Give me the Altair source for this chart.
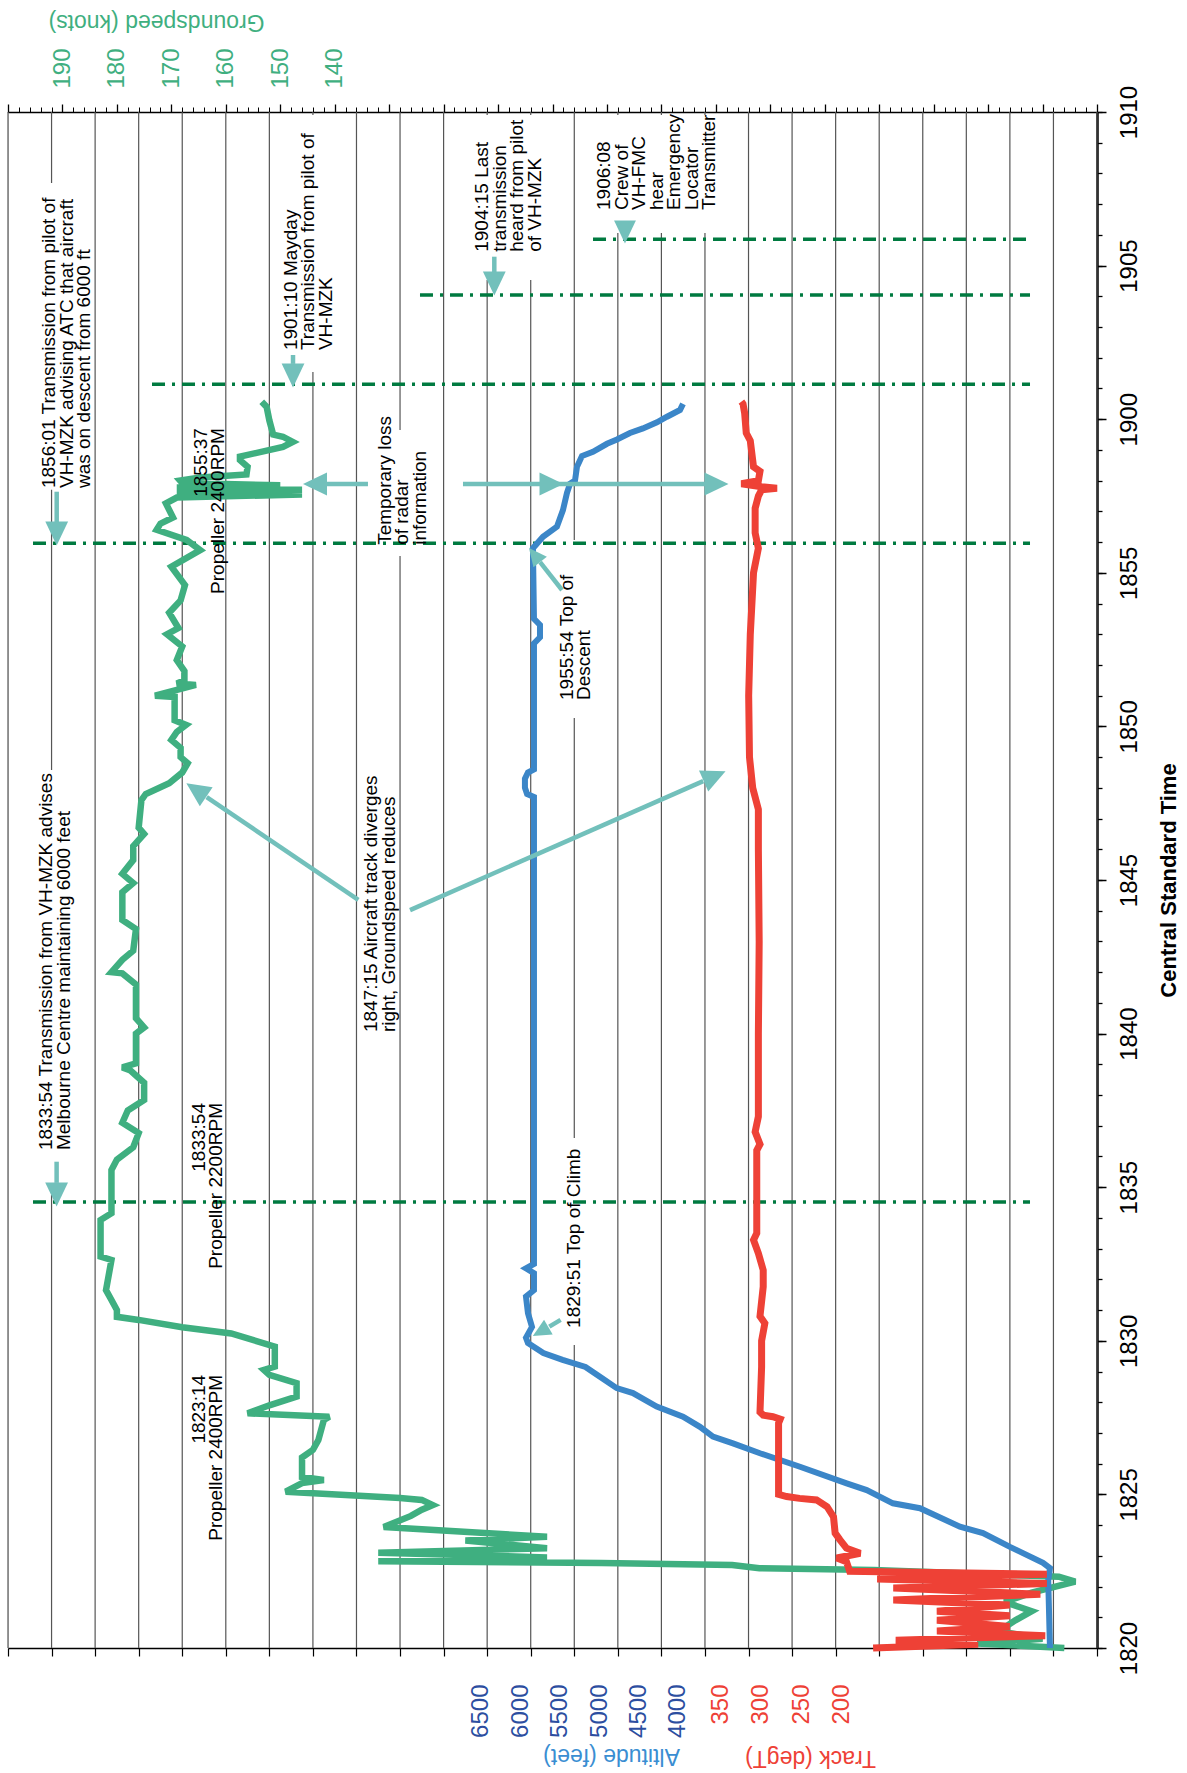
import altair as alt
import pandas as pd

# ---------------- data (time = minutes after 18:00 CST) ----------------
gs_time = [20.00, 20.15, 20.30, 20.55, 20.90, 21.20, 21.50, 21.80, 22.16, 22.32, 22.48, 22.54, 22.60, 22.70,
           22.74, 22.77, 22.82, 22.95, 23.10, 23.25, 23.50, 23.62, 23.94, 24.30, 24.50, 24.65, 24.82, 24.88,
           24.98, 25.09, 25.37, 25.47, 25.57, 26.20, 26.45, 26.77, 27.42, 27.53, 27.64, 27.90, 28.18, 28.62,
           28.89, 29.05, 29.16, 29.81, 30.24, 30.44, 30.68, 30.78, 31.00, 31.33, 31.65, 32.63, 32.74, 33.93,
           34.15, 35.56, 35.90, 36.30, 36.76, 37.10, 37.50, 37.84, 38.40, 38.80, 38.90, 39.03, 40.00, 40.20,
           40.50, 41.60, 41.96, 42.00, 42.40, 42.70, 43.40, 43.70, 44.60, 44.90, 45.20, 45.65, 46.10, 46.50,
           46.70, 47.60, 47.80, 48.15, 48.50, 48.80, 49.00, 49.30, 49.56, 49.82, 50.05, 50.20, 50.96, 51.00,
           51.35, 51.40, 51.50, 51.80, 52.16, 52.60, 53.00, 53.20, 53.70, 54.10, 54.60, 55.20, 55.74, 56.07,
           56.40, 56.60, 56.80, 57.26, 57.45, 57.55, 57.62, 57.70, 57.78, 57.85, 57.92, 58.00, 58.10, 58.20,
           58.45, 58.67, 58.78, 59.10, 59.26, 59.43, 59.50, 59.96, 60.40, 60.57]
gs_knots = [6, 22, 10, 18, 15, 12, 17, 12, 4, 7, 32, 41, 62, 67,
            82, 91, 132, 101, 132, 101, 116, 101, 131, 126, 124, 122, 124, 128,
            138, 149, 146, 142, 146, 146, 144, 143, 142, 141, 156, 152, 147, 147,
            152, 153, 151, 151, 159, 168, 176, 180, 180, 181, 182, 181, 183, 183,
            181, 181, 180, 177, 176, 179, 178, 175, 175, 177.5, 179, 176.5, 176.5, 175,
            176.5, 176.5, 179, 181, 179, 177, 176.5, 179, 179, 177, 179, 177, 177, 175,
            176, 175.5, 174.7, 170.4, 168, 167, 168.3, 168.3, 170, 169, 167.3, 169.4, 169.4, 173,
            165.5, 169, 167.6, 167.6, 169, 168, 170.8, 168.7, 170.4, 168.3, 167.5, 170, 164.7, 167.2,
            172.7, 172, 169.7, 171, 169, 146, 169, 146, 169, 150, 168, 168.4, 164.7, 156.2,
            156, 157.4, 157.4, 149.5, 147.7, 149.5, 151.3, 152, 152.5, 153.4]

alt_time = [20.00, 22.20, 22.60, 22.77, 23.09, 23.29, 23.74, 23.95, 24.55, 24.71, 25.14, 25.36, 25.90, 26.34,
            26.66, 26.88, 27.20, 27.53, 27.86, 28.30, 28.46, 28.83, 29.15, 29.38, 29.60, 29.93, 30.10, 30.45,
            30.90, 31.44, 31.65, 32.20, 32.36, 32.50, 47.70, 47.80, 48.00, 48.30, 48.50, 48.60, 52.70, 52.90,
            53.30, 53.50, 55.80, 56.17, 56.50, 57.04, 57.60, 57.90, 58.00, 58.45, 58.80, 58.94, 59.20, 59.34,
            59.55, 59.70, 59.90, 60.08, 60.30, 60.50]
alt_feet = [0, 20, 0, 81, 314, 465, 779, 1047, 1512, 1826, 2131, 2364, 2907, 3372,
            3686, 3919, 4070, 4267, 4573, 4849, 5038, 5233, 5401, 5667, 5891, 6070, 6093, 6023,
            6070, 6093, 6000, 6000, 6093, 6000, 6000, 6080, 6105, 6105, 6070, 6000, 6000, 5930,
            5930, 6000, 6012, 5895, 5733, 5663, 5616, 5581, 5523, 5500, 5442, 5314, 5151, 5035,
            4884, 4733, 4570, 4453, 4302, 4267]

trk_time = [20.00, 20.12, 20.25, 20.40, 20.55, 20.70, 20.90, 21.05, 21.20, 21.40, 21.56, 21.75, 21.95, 22.10,
            22.25, 22.40, 22.50, 22.81, 22.93, 23.08, 23.25, 23.52, 23.74, 24.27, 24.60, 24.82, 24.87, 24.93,
            25.00, 27.32, 27.45, 27.53, 27.58, 27.68, 29.15, 30.00, 30.57, 30.80, 31.76, 32.30, 32.85, 33.28,
            33.50, 36.20, 36.40, 36.80, 37.30, 37.84, 40.00, 43.00, 46.00, 47.30, 48.00, 49.00, 51.00, 53.00,
            55.00, 55.80, 56.30, 57.10, 57.50, 57.70, 57.75, 57.80, 57.90, 58.00, 58.30, 58.45, 59.30, 59.55,
            60.20, 60.50, 60.57]
trk_deg = [161, 31, 133, -52, 82, -8, 82, -8, 82, -8, 136, -46, 136, -54,
           156, -54, 190, 194, 206, 177, 194, 202, 208, 210, 218, 231, 252, 268,
           278, 278, 276, 285, 297, 301, 299, 299, 295, 301, 297, 297, 303, 309,
           305, 305, 301, 307, 303, 303, 303, 302, 303, 303, 310, 314, 315, 313,
           309, 303, 307, 307, 303, 299, 280, 299, 324, 303, 301, 309, 313, 318,
           320, 322, 324]

gs_ticks = [140, 150, 160, 170, 180, 190]
alt_ticks = [4000, 4500, 5000, 5500, 6000, 6500]
trk_ticks = [200, 250, 300, 350]
time_ticks = list(range(20, 71, 5))

# ---------------- annotations (u = background grid index, t = minutes after 18:00) ----------------
texts_left = [
    (0.741, 57.76, ["1856:01 Transmission from pilot of", "VH-MZK advising ATC that aircraft", "was on descent from 6000 ft"]),
    (0.677, 36.21, ["1833:54 Transmission from VH-MZK advises", "Melbourne Centre maintaining 6000 feet"]),
    (6.279, 62.25, ["1901:10 Mayday", "Transmission from pilot of", "VH-MZK"]),
    (10.686, 65.45, ["1904:15 Last", "transmission", "heard from pilot", "of VH-MZK"]),
    (13.487, 66.81, ["1906:08", "Crew of", "VH-FMC", "hear", "Emergency", "Locator", "Transmitter"]),
    (8.437, 55.91, ["Temporary loss", "of radar", "information"]),
    (12.776, 30.42, ["1829:51 Top of Climb"]),
    (12.615, 50.86, ["1955:54 Top of", "Descent"]),
    (8.138, 40.05, ["1847:15 Aircraft track diverges", "right, Groundspeed reduces"]),
]
texts_right = [
    (4.213, 59.71, ["1855:37", "Propeller 2400RPM"]),
    (4.167, 37.74, ["1833:54", "Propeller 2200RPM"]),
    (4.167, 28.89, ["1823:14", "Propeller 2400RPM"]),
]
boxes = [
    (0.643, 1.928, 57.70, 67.69), (0.620, 1.469, 34.75, 48.58), (6.221, 7.553, 61.54, 69.9),
    (10.629, 12.328, 64.53, 69.9), (13.430, 16.277, 66.06, 69.9), (8.379, 9.642, 55.55, 59.65),
    (12.718, 13.246, 29.86, 36.60), (12.557, 13.476, 50.27, 56.07), (8.081, 8.976, 39.79, 48.58),
]
dashes = [(0.574, 23.462, 34.52), (0.574, 23.462, 55.96), (3.306, 23.462, 61.14),
          (9.458, 23.462, 64.04), (13.430, 23.462, 65.86)]
shafts = [
    (1.118, 57.64, 1.118, 56.62), (1.116, 35.83, 1.116, 35.14), (6.543, 62.09, 6.543, 61.80),
    (11.164, 65.29, 11.164, 64.79), (14.164, 66.32, 14.164, 66.16), (8.264, 57.89, 7.300, 57.89),
    (10.445, 57.89, 16.024, 57.89), (8.042, 44.35, 4.561, 47.70), (9.229, 44.02, 15.960, 48.22),
    (12.686, 30.68, 12.427, 30.46), (12.718, 54.44, 12.215, 55.35),
]
heads = [
    (1.118, 56.28, 90, 576), (1.116, 34.76, 90, 576), (6.543, 61.42, 90, 576), (11.164, 64.42, 90, 576),
    (14.164, 66.09, 90, 529), (7.048, 57.89, 180, 576), (12.477, 57.89, 0, 576), (16.265, 57.89, 0, 576),
    (4.323, 47.93, 214.2, 576), (16.221, 48.38, 336.1, 576), (12.227, 30.30, 149.7, 324),
    (12.089, 55.58, 231.8, 324),
]

# ---------------- styling ----------------
W, H = 1089, 1536
FONT = "Liberation Sans"
GREEN, BLUE, RED = "#3FAF80", "#3B86C8", "#EE4136"
TEAL, DASHC = "#72C0BB", "#007A40"
ALTLBL, ALTTTL = "#2C4EA0", "#3A8ED2"
HEAD = "M-1,-0.95L1,0L-1,0.95Z"

Y = alt.Scale(domain=[20, 70], nice=False, zero=False)
GRID = alt.Scale(domain=[0, 25], nice=False, zero=False)
GS = alt.Scale(domain=[0, 200], reverse=True, nice=False, zero=False)
ALT_D = alt.Scale(domain=[-547, 12116], reverse=True, nice=False, zero=False)
ALT_L = alt.Scale(domain=[-1317, 12502], reverse=True, nice=False, zero=False)
TRK = alt.Scale(domain=[-116.1, 1231.7], reverse=True, nice=False, zero=False)

ynone = dict(scale=Y, axis=None)

grid = alt.Chart(pd.DataFrame({"u": list(range(26))})).mark_rule(color="#555", strokeWidth=1.2).encode(
    x=alt.X("u:Q", scale=GRID, axis=alt.Axis(orient="bottom", values=list(range(26)), labels=False,
                                             tickSize=8, tickColor="black", tickWidth=1.2, domain=True,
                                             domainColor="black", domainWidth=1.5, grid=False, title=None)),
    y=alt.value(0), y2=alt.value(H))

bx = pd.DataFrame(boxes, columns=["u1", "u2", "t1", "t2"])
white = alt.Chart(bx).mark_rect(color="white").encode(
    x=alt.X("u1:Q", scale=GRID, axis=None), x2="u2:Q",
    y=alt.Y("t1:Q", **ynone), y2="t2:Q")

dd = pd.DataFrame(dashes, columns=["u1", "u2", "t"])
dashl = alt.Chart(dd).mark_rule(color=DASHC, strokeWidth=3.5, strokeDash=[13, 7, 3, 7]).encode(
    x=alt.X("u1:Q", scale=GRID, axis=None), x2="u2:Q", y=alt.Y("t:Q", **ynone))

gsdf = pd.DataFrame({"t": gs_time, "v": gs_knots})
green = alt.Chart(gsdf).mark_line(color=GREEN, strokeWidth=6.5, strokeJoin="miter", strokeMiterLimit=3).encode(
    x=alt.X("v:Q", scale=GS, axis=alt.Axis(orient="top", values=list(range(0, 201, 2)), labels=False,
                                           tickSize=5, tickColor="black", tickWidth=1, domain=True,
                                           domainColor="black", domainWidth=1.5, grid=False, title=None)),
    y=alt.Y("t:Q", **ynone), order="t:Q")

altdf = pd.DataFrame({"t": alt_time, "v": alt_feet})
blue = alt.Chart(altdf).mark_line(color=BLUE, strokeWidth=6, strokeJoin="miter", strokeMiterLimit=3).encode(
    x=alt.X("v:Q", scale=ALT_D, axis=None), y=alt.Y("t:Q", **ynone), order="t:Q")

trkdf = pd.DataFrame({"t": trk_time, "v": trk_deg})
red = alt.Chart(trkdf).mark_line(color=RED, strokeWidth=7, strokeJoin="miter", strokeMiterLimit=3).encode(
    x=alt.X("v:Q", scale=TRK, axis=alt.Axis(orient="bottom", values=trk_ticks, ticks=False, tickSize=0,
                                            domain=False, grid=False, labelAngle=270, labelAlign="right",
                                            labelBaseline="middle", labelPadding=36, labelFontSize=24,
                                            labelFont=FONT, labelColor=RED, labelFlush=False, format="d",
                                            labelOverlap=False, title="Track (degT)", titleAngle=180,
                                            titleX=802, titleY=109, titleAlign="center",
                                            titleBaseline="middle", titleFontSize=23, titleFont=FONT,
                                            titleFontWeight="normal", titleColor=RED)),
    y=alt.Y("t:Q", **ynone), order="t:Q")

sh = pd.DataFrame(shafts, columns=["u1", "t1", "u2", "t2"])
shaft = alt.Chart(sh).mark_rule(color=TEAL, strokeWidth=4.5).encode(
    x=alt.X("u1:Q", scale=GRID, axis=None), x2="u2:Q", y=alt.Y("t1:Q", **ynone), y2="t2:Q")

hd = pd.DataFrame(heads, columns=["u", "t", "ang", "sz"])
head = alt.Chart(hd).mark_point(shape=HEAD, filled=True, opacity=1, color=TEAL, strokeWidth=0).encode(
    x=alt.X("u:Q", scale=GRID, axis=None), y=alt.Y("t:Q", **ynone),
    angle=alt.Angle("ang:Q", scale=None), size=alt.Size("sz:Q", scale=None))

tl = pd.DataFrame(texts_left, columns=["u", "t", "lines"])
txt_l = alt.Chart(tl).mark_text(angle=270, align="left", baseline="top", fontSize=19, lineHeight=17.5,
                                font=FONT, color="black").encode(
    x=alt.X("u:Q", scale=GRID, axis=None), y=alt.Y("t:Q", **ynone), text="lines")

tr = pd.DataFrame(texts_right, columns=["u", "t", "lines"])
txt_r = alt.Chart(tr).mark_text(angle=270, align="right", baseline="top", fontSize=19, lineHeight=17.5,
                                font=FONT, color="black").encode(
    x=alt.X("u:Q", scale=GRID, axis=None), y=alt.Y("t:Q", **ynone), text="lines")


def xaxis_layer(values, scale, axis):
    return alt.Chart(pd.DataFrame({"v": values})).mark_point(opacity=0).encode(
        x=alt.X("v:Q", scale=scale, axis=axis), y=alt.value(0))


def yaxis_layer(values, axis):
    return alt.Chart(pd.DataFrame({"m": values})).mark_point(opacity=0).encode(
        y=alt.Y("m:Q", scale=Y, axis=axis), x=alt.value(0))


gs_major = xaxis_layer(list(range(0, 201, 10)), GS, alt.Axis(
    orient="top", values=list(range(0, 201, 10)), labels=False, tickSize=8, tickColor="black",
    tickWidth=1.3, domain=False, grid=False, title=None))

gs_lbl = xaxis_layer(gs_ticks, GS, alt.Axis(
    orient="top", values=gs_ticks, ticks=False, tickSize=0, domain=False, grid=False, labelAngle=270,
    labelAlign="left", labelBaseline="middle", labelPadding=24, labelFontSize=24, labelFont=FONT,
    labelColor=GREEN, labelFlush=False, labelOverlap=False, format="d", title="Groundspeed (knots)",
    titleAngle=180, titleX=148, titleY=-91, titleAlign="center", titleBaseline="middle", titleFontSize=23,
    titleFont=FONT, titleFontWeight="normal", titleColor=GREEN))

alt_lbl = xaxis_layer(alt_ticks, ALT_L, alt.Axis(
    orient="bottom", values=alt_ticks, ticks=False, tickSize=0, domain=False, grid=False, labelAngle=270,
    labelAlign="right", labelBaseline="middle", labelPadding=36, labelFontSize=24, labelFont=FONT,
    labelColor=ALTLBL, labelFlush=False, labelOverlap=False, format="d", title="Altitude (feet)",
    titleAngle=180, titleX=603, titleY=107, titleAlign="center", titleBaseline="middle", titleFontSize=23,
    titleFont=FONT, titleFontWeight="normal", titleColor=ALTTTL))

time_lbl = yaxis_layer(time_ticks, alt.Axis(
    orient="right", values=time_ticks, ticks=False, tickSize=0, domain=False, grid=False,
    labelExpr="format(18 + floor(datum.value / 60), 'd') + format(datum.value % 60, '02d')",
    labelAngle=270, labelAlign="center", labelBaseline="middle", labelPadding=32, labelFontSize=24,
    labelFont=FONT, labelColor="black", labelFlush=False, labelOverlap=False,
    title="Central Standard Time", titleAngle=270, titleX=71, titleY=768, titleAlign="center",
    titleBaseline="middle", titleFontSize=22, titleFont=FONT, titleFontWeight="bold", titleColor="black"))

time_minor = yaxis_layer(list(range(20, 71)), alt.Axis(
    orient="right", values=list(range(20, 71)), labels=False, tickSize=5, tickColor="black",
    tickWidth=1.3, domain=True, domainColor="black", domainWidth=2.5, grid=False, title=None))

time_major = yaxis_layer(time_ticks, alt.Axis(
    orient="right", values=time_ticks, labels=False, tickSize=9, tickColor="black",
    tickWidth=1.5, domain=False, grid=False, title=None))

chart = alt.layer(
    grid, white, dashl, green, blue, red, shaft, head, txt_l, txt_r,
    gs_major, gs_lbl, alt_lbl, time_lbl, time_minor, time_major
).resolve_scale(x="independent").resolve_axis(x="independent", y="independent").properties(
    width=W, height=H,
    autosize=alt.AutoSizeParams(type="none"),
    padding={"left": 8, "top": 112, "right": 90, "bottom": 125},
    background="white",
).configure_view(stroke=None).configure(font=FONT)

chart.save("out.html", embed_options={"renderer": "svg", "actions": False})
